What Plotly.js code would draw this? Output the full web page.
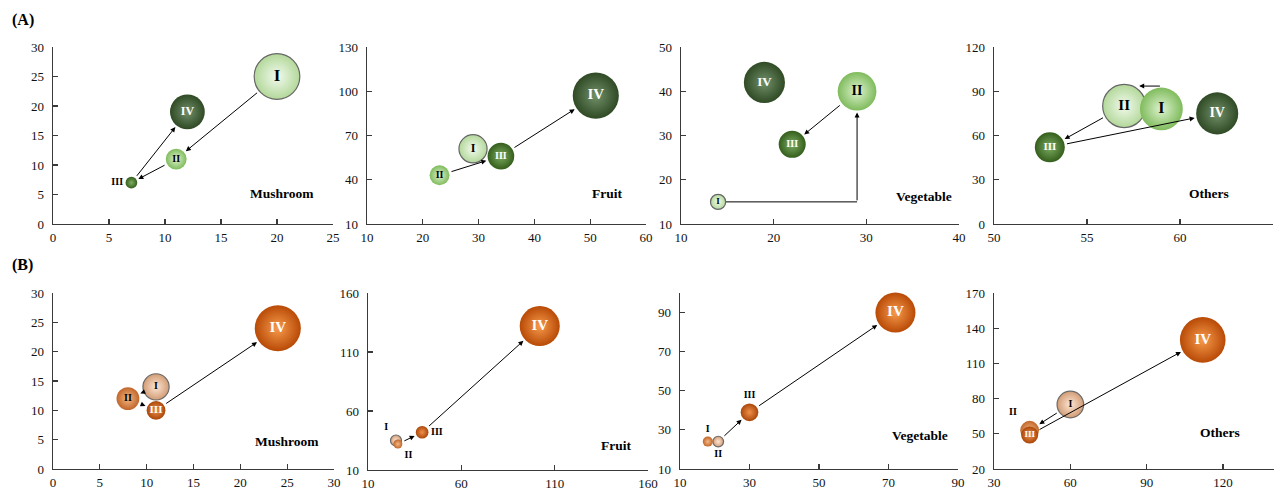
<!DOCTYPE html>
<html><head><meta charset="utf-8">
<script src="https://cdn.plot.ly/plotly-3.0.1.min.js"></script>
<style>html,body{margin:0;padding:0;background:#fff}#chart{width:1278px;height:492px}</style>
</head><body><div id="chart"></div>
<script>
// ---------- DATA ----------
const phases = ['I', 'II', 'III', 'IV'];
const panelNames = ['Mushroom', 'Fruit', 'Vegetable', 'Others'];

// (A)
const mushroomA_x = [20, 11, 7, 12];
const mushroomA_y = [25, 11, 7, 19];
const mushroomA_size = [100, 21, 6.6, 58];
const fruitA_x = [29, 23, 34, 51];
const fruitA_y = [61, 43, 56, 97];
const fruitA_size = [38, 19, 34, 102];
const vegetableA_x = [14, 29, 22, 19];
const vegetableA_y = [15, 40, 28, 42];
const vegetableA_size = [11, 72, 35, 81];
const othersA_x = [59, 57, 53, 62];
const othersA_y = [78, 80, 52, 75];
const othersA_size = [88, 89, 43, 85];

// (B)
const mushroomB_x = [11, 8, 11, 24];
const mushroomB_y = [14, 12, 10, 24];
const mushroomB_size = [33, 25, 17, 102];
const fruitB_x = [25, 26, 39, 102];
const fruitB_y = [35, 32, 42, 132];
const fruitB_size = [5.8, 3.9, 7.7, 77];
const vegetableB_x = [18, 21, 30, 72];
const vegetableB_y = [24, 24, 39, 90];
const vegetableB_size = [4.8, 5.5, 15, 77];
const othersB_x = [60, 44, 44, 112];
const othersB_y = [75, 53, 49, 130];
const othersB_size = [34, 17, 14, 100];

// axis ranges / tick steps
const xRanges = [[0,25],[10,60],[10,40],[50,65],[0,30],[10,160],[10,90],[30,140]];
const xSteps  = [5, 10, 10, 5, 5, 50, 20, 30];
const yRanges = [[0,30],[10,130],[10,50],[0,120],[0,30],[10,160],[10,100],[20,170]];
const ySteps  = [5, 30, 10, 30, 5, 50, 20, 30];

// transitions between phases (from, to)
const arrowsA = [[[0,1],[1,2],[2,3]], [[1,2],[2,3]], [[1,2]], [[1,2],[2,3]]];
const arrowsB = [[[0,1],[1,2],[2,3]], [[1,2],[2,3]], [[1,2],[2,3]], [[0,1],[2,3]]];

// ---------- STYLE ----------
const palette = {
  gPale:  {edge:'#b3d89a', center:'#f2faee', line:'#666666', lw:1.2},
  gLight: {edge:'#7fbb5c', center:'#def3d0', line:'#7fbb5c', lw:0},
  gDark:  {edge:'#355f1c', center:'#7cac62', line:'#355f1c', lw:0},
  gDeep:  {edge:'#2f4a24', center:'#71906a', line:'#2f4a24', lw:0},
  oPale:  {edge:'#d29c74', center:'#fde6d6', line:'#6a6a6a', lw:1.2},
  oMid:   {edge:'#c0662a', center:'#f5b884', line:'#c0662a', lw:0},
  oDark:  {edge:'#a9470a', center:'#f0904a', line:'#a9470a', lw:0},
  oDeep:  {edge:'#b84a06', center:'#f79a4c', line:'#b84a06', lw:0}
};
const kinds = [
  ['gPale','gLight','gDark','gDeep'],
  ['gPale','gLight','gDark','gDeep'],
  ['gPale','gLight','gDark','gDeep'],
  ['gLight','gPale','gDark','gDeep'],
  ['oPale','oMid','oDark','oDeep'],
  ['oPale','oMid','oDark','oDeep'],
  ['oMid','oPale','oDark','oDeep'],
  ['oPale','oMid','oDark','oDeep']
];
const textPos = [
  ['middle center','middle center','middle left','middle center'],
  ['middle center','middle center','middle center','middle center'],
  ['middle center','middle center','middle center','middle center'],
  ['middle center','middle center','middle center','middle center'],
  ['middle center','middle center','middle center','middle center'],
  ['top left','bottom right','middle right','middle center'],
  ['top center','bottom center','top center','middle center'],
  ['middle center','top left','middle center','middle center']
];
const textSize = [
  [17,10,10,12],[12,10,10,15],[9,14,10,13],[16,15,11,14],
  [10,10,11,15],[10,10,10,15],[10,10,10,15],[10,10,9,15]
];
const textCol = [
  ['#000','#000','#000','#fff'],['#000','#000','#fff','#fff'],
  ['#000','#000','#fff','#fff'],['#000','#000','#fff','#fff'],
  ['#000','#000','#fff','#fff'],['#000','#000','#000','#fff'],
  ['#000','#000','#000','#fff'],['#000','#000','#fff','#fff']
];

const panels = [
  {x:mushroomA_x, y:mushroomA_y, s:mushroomA_size, name:panelNames[0], arrows:arrowsA[0]},
  {x:fruitA_x, y:fruitA_y, s:fruitA_size, name:panelNames[1], arrows:arrowsA[1]},
  {x:vegetableA_x, y:vegetableA_y, s:vegetableA_size, name:panelNames[2], arrows:arrowsA[2]},
  {x:othersA_x, y:othersA_y, s:othersA_size, name:panelNames[3], arrows:arrowsA[3]},
  {x:mushroomB_x, y:mushroomB_y, s:mushroomB_size, name:panelNames[0], arrows:arrowsB[0]},
  {x:fruitB_x, y:fruitB_y, s:fruitB_size, name:panelNames[1], arrows:arrowsB[1]},
  {x:vegetableB_x, y:vegetableB_y, s:vegetableB_size, name:panelNames[2], arrows:arrowsB[2]},
  {x:othersB_x, y:othersB_y, s:othersB_size, name:panelNames[3], arrows:arrowsB[3]}
];

// layout geometry (pixels in a 1278x492 page)
const W = 1278, H = 492;
const xPix = [[53,333],[367,646],[681,959],[994,1273],[53,334],[368,648],[680,958],[994,1274]];
const yPix = [[47,224],[47,224],[47,224],[47,224],[293,469],[293,470],[293,469],[293,469]];
const namePos = [[0.818,0.175],[0.86,0.175],[0.874,0.153],[0.771,0.175],
                 [0.833,0.158],[0.886,0.14],[0.863,0.192],[0.807,0.209]];

const SIZEREF = 0.096;
const radius = v => Math.sqrt(v / 2 / SIZEREF);

const serif = 'Liberation Serif, Times New Roman, serif';
const traces = [];
const annotations = [];
const shapes = [];
const layout = {
  width: W, height: H, margin:{l:0,r:0,t:0,b:0},
  paper_bgcolor:'#fff', plot_bgcolor:'rgba(0,0,0,0)',
  showlegend:false, annotations, shapes,
  font:{family:serif, color:'#111'}
};

panels.forEach((p, k) => {
  const n = k + 1;
  const xa = 'x' + (n === 1 ? '' : n), ya = 'y' + (n === 1 ? '' : n);
  // draw larger bubbles first
  const order = [0,1,2,3].sort((a,b) => p.s[b] - p.s[a]);
  const st = order.map(i => palette[kinds[k][i]]);
  traces.push({
    type:'scatter', mode:'markers+text', xaxis:xa, yaxis:ya,
    x: order.map(i => p.x[i]), y: order.map(i => p.y[i]),
    text: order.map(i => phases[i]),
    textposition: order.map(i => textPos[k][i]),
    textfont:{family:serif, weight:'bold', size: order.map(i => textSize[k][i]), color: order.map(i => textCol[k][i])},
    marker:{
      size: order.map(i => p.s[i]), sizemode:'area', sizeref:SIZEREF,
      color: st.map(c => c.edge),
      gradient:{type:'radial', color: st.map(c => c.center)},
      line:{color: st.map(c => c.line), width: st.map(c => c.lw)},
      opacity:1
    },
    hoverinfo:'skip', cliponaxis:false
  });

  const axisCommon = {
    color:'#111',
    showline:true, linecolor:'#3a3a3a', linewidth:1.3,
    ticks:'inside', ticklen:5, tickwidth:1.2, tickcolor:'#3a3a3a',
    showgrid:false, zeroline:false, fixedrange:true,
    tickfont:{family:serif, size:13, color:'#111'}
  };
  layout['xaxis' + (n === 1 ? '' : n)] = Object.assign({}, axisCommon, {
    domain:[xPix[k][0]/W, xPix[k][1]/W], anchor:ya,
    range:xRanges[k], tick0:xRanges[k][0], dtick:xSteps[k], ticklabelstandoff:1
  });
  layout['yaxis' + (n === 1 ? '' : n)] = Object.assign({}, axisCommon, {
    domain:[1 - yPix[k][1]/H, 1 - yPix[k][0]/H], anchor:xa,
    range:yRanges[k], tick0:yRanges[k][0], dtick:ySteps[k], ticklabelstandoff:5
  });

  // arrows between phases
  p.arrows.forEach(([i, j]) => {
    annotations.push({
      xref:xa, yref:ya, axref:xa, ayref:ya,
      x:p.x[j], y:p.y[j], ax:p.x[i], ay:p.y[i], text:'',
      showarrow:true, arrowhead:2, arrowsize:1, arrowwidth:1, arrowcolor:'#000',
      standoff: radius(p.s[j]) + 2, startstandoff: radius(p.s[i]) + 1
    });
  });

  // panel name
  annotations.push({
    xref:xa + ' domain', yref:ya + ' domain', x:namePos[k][0], y:namePos[k][1],
    xanchor:'center', yanchor:'middle', showarrow:false,
    text:'<b>' + p.name + '</b>', font:{family:serif, size:13.5, color:'#000'}
  });
});

// Vegetable (A): elbow transition I -> II
{
  const p = panels[2];
  shapes.push({type:'line', xref:'x3', yref:'y3', x0:p.x[0], y0:p.y[0], x1:p.x[1], y1:p.y[0],
               line:{color:'#000', width:1}, layer:'below'});
  annotations.push({xref:'x3', yref:'y3', axref:'x3', ayref:'y3',
    x:p.x[1], y:p.y[1], ax:p.x[1], ay:p.y[0], text:'',
    showarrow:true, arrowhead:2, arrowsize:1, arrowwidth:1, arrowcolor:'#000',
    standoff: radius(p.s[1]) + 2});
}
// Others (A): I -> II along the top
{
  const p = panels[3];
  const pxPerY = (yPix[3][1] - yPix[3][0]) / (yRanges[3][1] - yRanges[3][0]);
  const yTop = p.y[0] + radius(p.s[0]) / pxPerY + 1;
  annotations.push({xref:'x4', yref:'y4', axref:'x4', ayref:'y4',
    x:p.x[1], y:yTop, ax:p.x[0], ay:yTop, text:'',
    showarrow:true, arrowhead:2, arrowsize:1, arrowwidth:1, arrowcolor:'#000',
    standoff: 15});
}

// (A) / (B) labels
annotations.push({xref:'paper', yref:'paper', x:10/W, y:1 - 20/H, xanchor:'left', yanchor:'middle',
  showarrow:false, text:'<b>(A)</b>', font:{family:serif, size:16, color:'#000'}});
annotations.push({xref:'paper', yref:'paper', x:10/W, y:1 - 265/H, xanchor:'left', yanchor:'middle',
  showarrow:false, text:'<b>(B)</b>', font:{family:serif, size:16, color:'#000'}});

Plotly.newPlot('chart', traces, layout, {staticPlot:true, displayModeBar:false});
</script>
</body></html>
